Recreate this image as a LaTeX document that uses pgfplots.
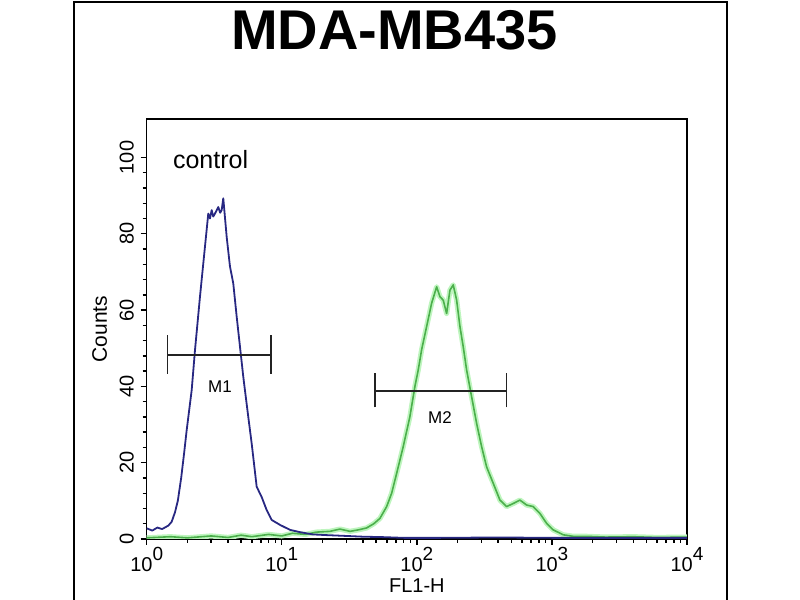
\documentclass[border=0pt]{standalone}
\usepackage{pgfplots}
\pgfplotsset{compat=1.18}
\usepackage{fontspec}
\setmainfont{Liberation Sans}
\definecolor{blueline}{RGB}{40,40,130}
\definecolor{greencore}{RGB}{75,175,75}
\definecolor{greenglow}{RGB}{190,245,190}
\definecolor{markcol}{RGB}{35,35,35}
\newcommand\dec[1]{10\raisebox{5.6pt}{\fontsize{9.5}{9.5}\selectfont #1}}
\begin{document}
\begin{tikzpicture}
\path[use as bounding box] (0,0) rectangle (400pt,300pt);
\draw[line width=1pt] (37pt,0) -- (37pt,299.1pt) -- (363.5pt,299.1pt) -- (363.5pt,0);
\node[font=\fontsize{28}{28}\selectfont\bfseries, anchor=base] at (197.2pt,275pt) {MDA-MB435};
\begin{axis}[
 at={(73.35pt,30.5pt)}, anchor=south west,
 width=270.15pt, height=209.85pt, scale only axis,
 xmode=log, xmin=1, xmax=10000, ymin=0, ymax=110,
 xtick={1,10,100,1000,10000},
 xticklabels={\dec{0},\dec{1},\dec{2},\dec{3},\dec{4}},
 ytick={0,20,40,60,80,100},
 minor y tick num=4,
 xtick pos=bottom, ytick pos=left,
 tick align=outside,
 major tick length=3pt, minor tick length=2pt,
 axis line style={line width=0.8pt},
 every tick/.append style={black, line width=0.7pt},
 /pgf/number format/assume math mode=true,
 tick label style={font=\fontsize{10}{10}\selectfont},
 xticklabel style={inner sep=1pt},
 yticklabel style={rotate=90, anchor=base},
 yticklabel shift=3.5pt,
 xlabel={FL1-H}, ylabel={Counts},
 xlabel style={at={(axis description cs:0.5,-0.128)}, anchor=base, font=\fontsize{10}{10}\selectfont},
 ylabel style={at={(axis description cs:-0.0735,0.5)}, anchor=base, font=\fontsize{10.5}{10.5}\selectfont},
]
% green (sample), glow + core
\addplot[greenglow, line width=2.6pt, line join=round] coordinates {
(1.0,0.3) (1.5,0.6) (2,0.3) (3,0.8) (4,0.4) (5,1.0) (6,0.6) (8,1.2) (10,0.8) (12,1.5) (15,1.2) (18,1.8) (22.7,2.0) (27,2.6) (32,2.0) (37,2.4) (42.5,2.9) (48,4.0) (53.3,5.4) (59.8,8.5) (65.1,12.0) (70.9,17.2) (79.3,24.2) (88.9,32.1) (96.8,40) (102.4,44.3) (108.5,49.6) (118.2,55.7) (128.7,61.8) (140.2,66.1) (148.3,63.5) (156.8,62.6) (166.2,59.1) (175.8,65.2) (186.0,66.6) (197.1,62.6) (208.5,55.7) (220.5,50.4) (233.7,44.3) (254.4,37.3) (277.1,30.3) (301.8,24.2) (328.6,18.9) (367.8,14.6) (412.3,10.2) (462,8.5) (517.2,9.3) (579.7,10.2) (649.6,8.9) (727,8.5) (815,6.7) (914,4.1) (1022,2.4) (1212,1.1) (1438,0.7) (1807,0.7) (2500,0.5) (4000,0.6) (6000,0.4) (10000,0.5)};
\addplot[greencore, line width=0.8pt, line join=round] coordinates {
(1.0,0.3) (1.5,0.6) (2,0.3) (3,0.8) (4,0.4) (5,1.0) (6,0.6) (8,1.2) (10,0.8) (12,1.5) (15,1.2) (18,1.8) (22.7,2.0) (27,2.6) (32,2.0) (37,2.4) (42.5,2.9) (48,4.0) (53.3,5.4) (59.8,8.5) (65.1,12.0) (70.9,17.2) (79.3,24.2) (88.9,32.1) (96.8,40) (102.4,44.3) (108.5,49.6) (118.2,55.7) (128.7,61.8) (140.2,66.1) (148.3,63.5) (156.8,62.6) (166.2,59.1) (175.8,65.2) (186.0,66.6) (197.1,62.6) (208.5,55.7) (220.5,50.4) (233.7,44.3) (254.4,37.3) (277.1,30.3) (301.8,24.2) (328.6,18.9) (367.8,14.6) (412.3,10.2) (462,8.5) (517.2,9.3) (579.7,10.2) (649.6,8.9) (727,8.5) (815,6.7) (914,4.1) (1022,2.4) (1212,1.1) (1438,0.7) (1807,0.7) (2500,0.5) (4000,0.6) (6000,0.4) (10000,0.5)};
% blue (control)
\addplot[blueline, line width=0.9pt, line join=round] coordinates {
(1.0,2.8) (1.1,2.2) (1.2,3.0) (1.3,2.6) (1.445,3.5) (1.53,4.5) (1.62,7) (1.70,10) (1.80,16) (1.90,23) (1.977,28.5) (2.153,39) (2.278,49.5) (2.48,63.5) (2.655,74) (2.857,85.3) (2.94,84) (3.028,86.2) (3.11,84.5) (3.203,85.3) (3.388,87) (3.5,85.5) (3.59,86.2) (3.69,89.3) (3.91,79.2) (4.137,71.4) (4.375,67) (4.636,58.3) (4.905,50.4) (5.19,42.5) (5.65,32) (5.99,25) (6.52,13.7) (7.10,11) (7.73,7.6) (8.42,5) (9.70,3.7) (11.5,2.4) (13.6,1.8) (17.0,1.2) (22,1.0) (30,0.8) (40,0.6) (55,0.5) (80,0.3) (150,0.3) (400,0.4) (1000,0.3) (3000,0.3) (10000,0.3)};
% markers M1, M2
\addplot[markcol, line width=0.8pt] coordinates {(1.43,48.2) (8.32,48.2)};
\addplot[markcol, line width=0.8pt] coordinates {(1.43,43.3) (1.43,53.4)};
\addplot[markcol, line width=0.8pt] coordinates {(8.32,43.3) (8.32,53.4)};
\addplot[markcol, line width=0.8pt] coordinates {(48.9,38.8) (462,38.8)};
\addplot[markcol, line width=0.8pt] coordinates {(48.9,34.5) (48.9,43.5)};
\addplot[markcol, line width=0.8pt] coordinates {(462,34.5) (462,43.5)};
\node[font=\fontsize{8.5}{8.5}\selectfont] at (axis cs:3.49,39.9) {M1};
\node[font=\fontsize{8.5}{8.5}\selectfont] at (axis cs:148.3,31.7) {M2};
\node[font=\fontsize{12.5}{12.5}\selectfont, anchor=base west, inner sep=0pt] at (rel axis cs:0.0481,0.8833) {control};
\end{axis}
\end{tikzpicture}
\end{document}
